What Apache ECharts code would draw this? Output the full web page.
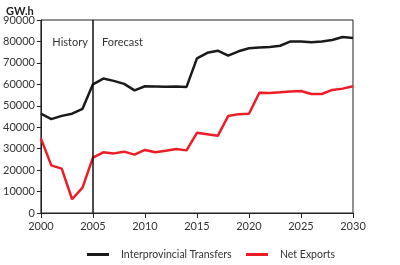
<!DOCTYPE html>
<html>
<head>
<meta charset="utf-8">
<style>
  html, body { margin: 0; padding: 0; background: #fff; }
  #chart { width: 400px; height: 265px; }
</style>
<script src="https://cdn.jsdelivr.net/npm/echarts@6/dist/echarts.min.js"></script>
</head>
<body>
<div id="chart"></div>
<script>
// GW.h by year
var years = [2000, 2001, 2002, 2003, 2004, 2005, 2006, 2007, 2008, 2009, 2010,
             2011, 2012, 2013, 2014, 2015, 2016, 2017, 2018, 2019, 2020,
             2021, 2022, 2023, 2024, 2025, 2026, 2027, 2028, 2029, 2030];
var transfers = [46300, 43800, 45300, 46300, 48600, 60000, 62700, 61600, 60200, 57200, 59100,
                 59000, 58900, 59000, 58800, 72100, 74700, 75700, 73400, 75400, 76800,
                 77200, 77400, 78000, 80000, 80000, 79600, 80000, 80700, 82100, 81600];
var netExports = [34800, 22200, 20700, 6400, 11800, 25800, 28300, 27800, 28600, 27200, 29400,
                  28300, 29000, 29800, 29200, 37400, 36700, 36000, 45200, 46100, 46300,
                  56100, 56000, 56300, 56700, 56900, 55500, 55500, 57400, 58000, 59100];
var splitYear = 2005;

var font = 'Lato, "DejaVu Sans", sans-serif';

function pairs(vals) {
  return years.map(function(y, i) { return [y, vals[i]]; });
}

var chart = echarts.init(document.getElementById('chart'), null, { renderer: 'canvas' });

chart.setOption({
  animation: false,
  textStyle: { fontFamily: font },
  title: {
    text: 'GW.h',
    left: 1,
    top: 1,
    textStyle: { fontSize: 11, fontWeight: 'bold', color: '#222', fontFamily: font }
  },
  grid: {
    left: 40, right: 47, top: 20, bottom: 52,
    show: true, borderColor: '#222', borderWidth: 1
  },
  legend: [{
    left: 82, top: 244,
    itemWidth: 22, itemHeight: 3, itemGap: 20,
    icon: 'rect',
    textStyle: { fontSize: 10.5, color: '#333', padding: [0, 0, 0, 7] },
    data: ['Interprovincial Transfers']
  }, {
    left: 241, top: 244,
    itemWidth: 22, itemHeight: 3,
    icon: 'rect',
    textStyle: { fontSize: 10.5, color: '#333', padding: [0, 0, 0, 7] },
    data: ['Net Exports']
  }],
  xAxis: {
    type: 'value',
    min: 2000, max: 2030, interval: 5,
    axisLine: { lineStyle: { color: '#222', width: 1 } },
    axisTick: { length: 5, lineStyle: { color: '#222' } },
    axisLabel: { fontSize: 11, color: '#333', margin: 8, formatter: function(v) { return String(v); } },
    splitLine: { show: false }
  },
  yAxis: {
    type: 'value',
    min: 0, max: 90000, interval: 10000,
    axisLine: { show: true, lineStyle: { color: '#222', width: 1 } },
    axisTick: { show: true, length: 4, lineStyle: { color: '#222' } },
    axisLabel: { fontSize: 11, color: '#333', margin: 6, formatter: function(v) { return String(v); } },
    splitLine: { show: false }
  },
  series: [{
    name: 'Interprovincial Transfers',
    type: 'line',
    data: pairs(transfers),
    showSymbol: false,
    symbol: 'none',
    itemStyle: { color: '#1a1a1a' },
    lineStyle: { color: '#1a1a1a', width: 2.5 },
    markLine: {
      silent: true,
      symbol: 'none',
      label: { show: false },
      lineStyle: { color: '#111', width: 1.5, type: 'solid' },
      data: [{ xAxis: splitYear }]
    }
  }, {
    name: 'Net Exports',
    type: 'line',
    data: pairs(netExports),
    showSymbol: false,
    symbol: 'none',
    itemStyle: { color: '#ee1c25' },
    lineStyle: { color: '#ee1c25', width: 2.5 }
  }]
});

// History / Forecast labels either side of the split line
var p = chart.convertToPixel({ gridIndex: 0 }, [splitYear, 80000]);
chart.setOption({
  graphic: [{
    type: 'text', x: p[0] - 5, y: p[1] + 1,
    style: { text: 'History', align: 'right', verticalAlign: 'middle', fill: '#333', font: '11px ' + font }
  }, {
    type: 'text', x: p[0] + 9, y: p[1] + 1,
    style: { text: 'Forecast', align: 'left', verticalAlign: 'middle', fill: '#333', font: '11px ' + font }
  }]
});
</script>
</body>
</html>
